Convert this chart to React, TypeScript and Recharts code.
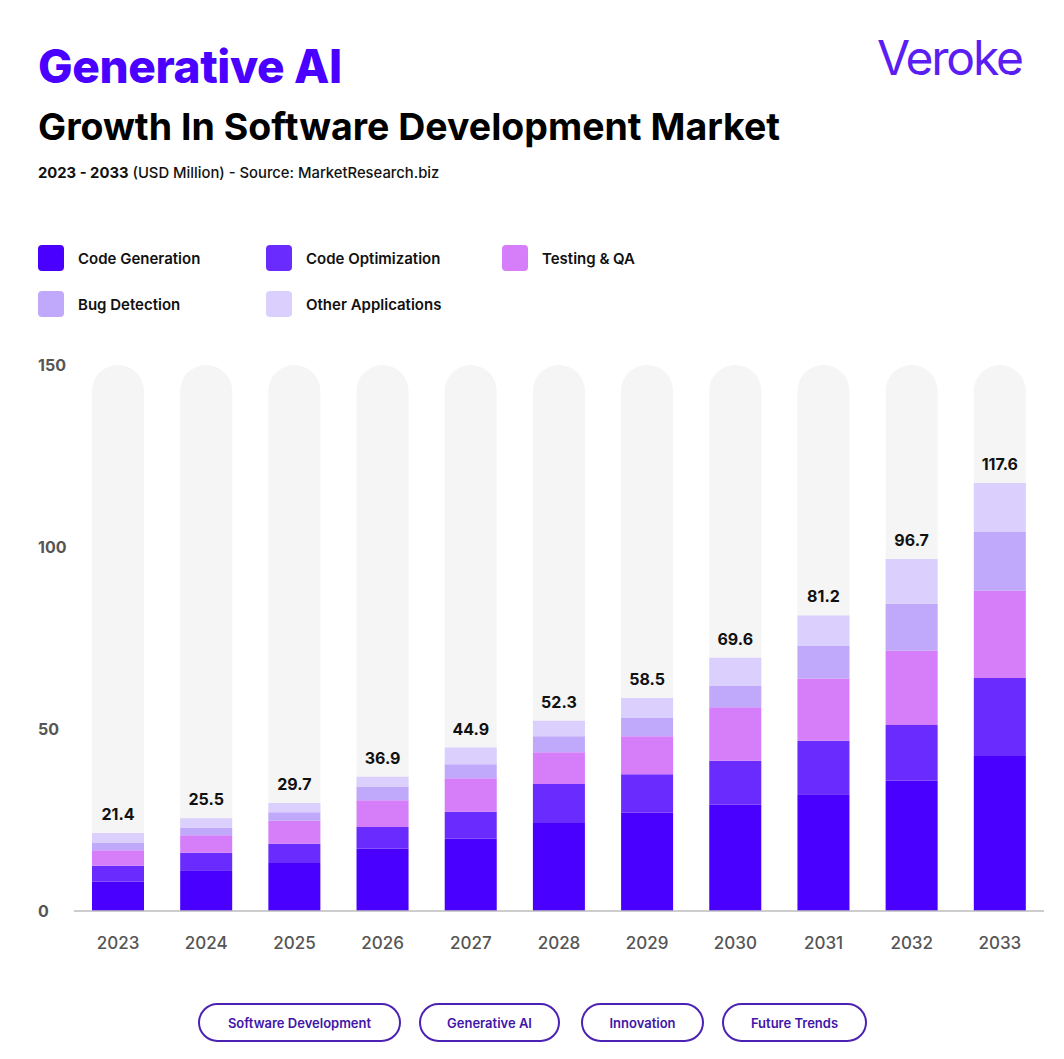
import React from "react";
import { BarChart, Bar, XAxis, YAxis, LabelList } from "recharts";

const years = ["2023", "2024", "2025", "2026", "2027", "2028", "2029", "2030", "2031", "2032", "2033"];
const totals = [21.4, 25.5, 29.7, 36.9, 44.9, 52.3, 58.5, 69.6, 81.2, 96.7, 117.6];
const codeGeneration = [8.1, 11.2, 13.2, 17.2, 19.9, 24.2, 27.0, 29.2, 32.1, 35.8, 42.6];
const codeOptimization = [4.3, 4.8, 5.3, 5.9, 7.4, 10.7, 10.6, 12.1, 14.7, 15.3, 21.4];
const testingQA = [4.3, 4.8, 6.3, 7.3, 9.2, 8.7, 10.4, 14.7, 17.1, 20.4, 24.0];
const bugDetection = [2.1, 2.1, 2.3, 3.8, 3.8, 4.4, 5.0, 5.8, 8.9, 12.9, 16.1];
const otherApplications = [2.6, 2.6, 2.6, 2.7, 4.6, 4.3, 5.5, 7.8, 8.4, 12.3, 13.5];
const yTicks = [0, 50, 100, 150];
const tags = ["Software Development", "Generative AI", "Innovation", "Future Trends"];

const series = [
  { key: "codeGeneration", name: "Code Generation", color: "#4a00ff", values: codeGeneration },
  { key: "codeOptimization", name: "Code Optimization", color: "#6a2bff", values: codeOptimization },
  { key: "testingQA", name: "Testing & QA", color: "#d67ef9", values: testingQA },
  { key: "bugDetection", name: "Bug Detection", color: "#c0a9fb", values: bugDetection },
  { key: "otherApplications", name: "Other Applications", color: "#dbcffd", values: otherApplications },
];

const data = years.map((year, i) => {
  const row: Record<string, any> = { year, total: totals[i] };
  series.forEach((s) => {
    row[s.key] = s.values[i];
  });
  return row;
});

const FONT = "Inter, 'Open Sans', sans-serif";

const legendPositions = [
  { left: 38, top: 245 },
  { left: 266, top: 245 },
  { left: 502, top: 245 },
  { left: 38, top: 291 },
  { left: 266, top: 291 },
];

const tagBoxes = [
  { left: 198, width: 203 },
  { left: 419, width: 141 },
  { left: 581, width: 123 },
  { left: 722, width: 145 },
];

export default function App() {
  return (
    <div
      style={{
        position: "absolute",
        left: 0,
        top: 0,
        width: 1064,
        height: 1059,
        background: "#ffffff",
        fontFamily: FONT,
        overflow: "hidden",
      }}
    >
      <div
        style={{
          position: "absolute",
          left: 38,
          top: 37,
          fontSize: 46,
          fontWeight: 800,
          color: "#4a00ff",
          letterSpacing: -0.4,
          lineHeight: "58px",
        }}
      >
        Generative AI
      </div>
      <div
        style={{
          position: "absolute",
          left: 877,
          top: 28,
          fontSize: 48,
          fontWeight: 400,
          color: "#5a1ef2",
          letterSpacing: -2.2,
          lineHeight: "60px",
        }}
      >
        Veroke
      </div>
      <div
        style={{
          position: "absolute",
          left: 38,
          top: 103,
          fontSize: 37.5,
          fontWeight: 700,
          color: "#000000",
          letterSpacing: 0,
          lineHeight: "48px",
        }}
      >
        Growth In Software Development Market
      </div>
      <div
        style={{
          position: "absolute",
          left: 38,
          top: 163,
          fontSize: 14.8,
          fontWeight: 500,
          color: "#111111",
          lineHeight: "20px",
        }}
      >
        <span style={{ fontWeight: 700 }}>2023 - 2033</span> (USD Million) - Source: MarketResearch.biz
      </div>

      {series.map((s, i) => (
        <div
          key={s.key}
          style={{
            position: "absolute",
            left: legendPositions[i].left,
            top: legendPositions[i].top,
            display: "flex",
            alignItems: "center",
          }}
        >
          <div
            style={{
              width: 26,
              height: 26,
              borderRadius: 4,
              background: s.color,
              marginRight: 14,
            }}
          />
          <span style={{ fontSize: 15, fontWeight: 600, color: "#111" }}>{s.name}</span>
        </div>
      ))}

      <div style={{ position: "absolute", left: 0, top: 0 }}>
        <BarChart
          width={1064}
          height={1059}
          data={data}
          margin={{ top: 365, right: 20, bottom: 108, left: 14 }}
          barSize={52}
        >
          <XAxis
            dataKey="year"
            height={40}
            tickLine={false}
            axisLine={{ stroke: "#bdbdbd", strokeWidth: 1.5 }}
            tickMargin={20}
            tick={{ fill: "#555555", fontSize: 17, fontFamily: FONT, fontWeight: 500 }}
          />
          <YAxis
            width={60}
            domain={[0, 150]}
            ticks={yTicks}
            axisLine={false}
            tickLine={false}
            tick={{ fill: "#555555", fontSize: 16, fontFamily: FONT, fontWeight: 700, textAnchor: "start", dx: -28 }}
          />
          {series.map((s, i) => (
            <Bar
              key={s.key}
              dataKey={s.key}
              name={s.name}
              stackId="a"
              fill={s.color}
              isAnimationActive={false}
              background={i === 0 ? { fill: "#f5f5f6", radius: [26, 26, 0, 0] } : undefined}
            >
              {i === series.length - 1 ? (
                <LabelList
                  dataKey="total"
                  position="top"
                  offset={13}
                  style={{ fill: "#111111", fontSize: 16, fontWeight: 700, fontFamily: FONT }}
                />
              ) : null}
            </Bar>
          ))}
        </BarChart>
      </div>

      {tags.map((t, i) => (
        <div
          key={t}
          style={{
            position: "absolute",
            left: tagBoxes[i].left,
            top: 1003,
            width: tagBoxes[i].width,
            height: 39,
            boxSizing: "border-box",
            border: "2px solid #4b22b3",
            borderRadius: 20,
            display: "flex",
            alignItems: "center",
            justifyContent: "center",
            fontSize: 13,
            fontWeight: 600,
            color: "#4216a8",
          }}
        >
          {t}
        </div>
      ))}
    </div>
  );
}
